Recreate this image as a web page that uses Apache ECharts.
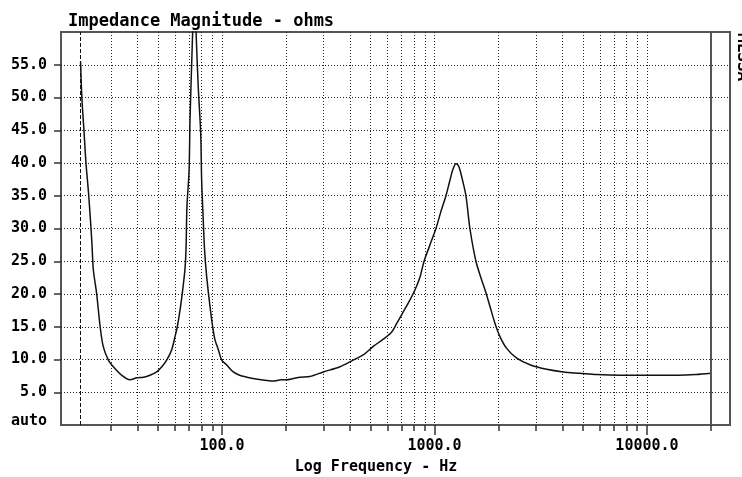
<!DOCTYPE html>
<html>
<head>
<meta charset="utf-8">
<script src="https://cdn.jsdelivr.net/npm/echarts@6/dist/echarts.min.js"></script>
<style>
  html, body { margin: 0; padding: 0; background: #fff; }
  #chart { width: 742px; height: 477px; }
</style>
</head>
<body>
<div id="chart"></div>
<script>
// impedance curve (Hz, ohms)
var freqs = [21.6, 21.9, 22.4, 22.9, 23.6, 24.4, 24.8, 25.7, 26.7, 27.6, 29.2, 30.8, 33.7, 36.9, 39.7,
    42.7, 45.8, 49.3, 52.1, 54.9, 58.0, 60.1, 61.6, 63.5, 65.3, 66.9, 67.7, 68.4, 70.0, 70.7, 72.0,
    72.8, 74.0, 75.5, 77.3, 79.4, 80.2, 81.6, 82.8, 84.5, 87.8, 90.4, 92.7, 96.1, 99.7, 105, 113,
    121, 131, 140, 162, 174, 190, 201, 217, 233, 259, 300, 359, 408, 462, 515, 574, 629, 664, 714,
    767, 809, 855, 893, 952, 1016, 1070, 1132, 1183, 1220, 1262, 1300, 1343, 1406, 1468, 1567,
    1669, 1730, 1825, 1927, 2033, 2186, 2438, 2814, 3371, 4040, 4840, 5800, 7470, 10000, 14000,
    17000, 20000];
var ohms = [55.5, 50.0, 45.0, 40.0, 35.0, 28.0, 23.7, 20.1, 15.0, 12.0, 9.9, 8.9, 7.6, 6.9, 7.2,
    7.3, 7.6, 8.1, 8.9, 9.9, 11.5, 13.5, 15.0, 17.6, 20.6, 23.7, 26.7, 33.3, 38.9, 46.6, 55.2,
    60.3, 68.0, 60.0, 51.6, 44.5, 37.4, 31.3, 26.7, 23.0, 18.1, 15.0, 13.0, 11.5, 9.9, 9.2, 8.1,
    7.6, 7.3, 7.1, 6.8, 6.7, 6.9, 6.9, 7.1, 7.3, 7.4, 8.1, 8.9, 9.8, 10.7, 12.0, 13.1, 14.2, 15.5, 17.3,
    19.1, 20.6, 22.6, 25.0, 27.5, 30.0, 32.5, 35.0, 37.4, 39.0, 39.9, 39.5, 37.9, 35.0, 30.0, 25.0,
    22.1, 20.6, 18.1, 15.5, 13.5, 11.7, 10.2, 9.2, 8.5, 8.1, 7.9, 7.7, 7.6, 7.6, 7.6,
    7.7, 7.9];

// axis ranges and ticks
var xMin = 17.47;
var xMax = 24590;
var yMin = 0;
var yMax = 60;
var yStep = 5;
var xMajor = [100, 1000, 10000];
var xMinor = [30, 40, 50, 60, 70, 80, 90, 200, 300, 400, 500, 600, 700, 800, 900,
    2000, 3000, 4000, 5000, 6000, 7000, 8000, 9000, 20000];
var yTicks = [5, 10, 15, 20, 25, 30, 35, 40, 45, 50, 55];
var startFreq = 21.6;
var endFreq = 20000;

var FONT = 'DejaVu Sans Mono';

var curve = freqs.map(function (f, i) { return [f, ohms[i]]; });
var xAllTicks = xMinor.concat(xMajor).sort(function (a, b) { return a - b; });

var labelStyle = {fontFamily: FONT, fontSize: 15, fontWeight: 'bold', color: '#000'};

var chart = echarts.init(document.getElementById('chart'));
var option = {
    backgroundColor: '#fff',
    animation: false,
    title: [{
        text: 'Impedance Magnitude - ohms',
        left: 68,
        top: 13,
        padding: 0,
        textStyle: {fontFamily: FONT, fontSize: 17, fontWeight: 'bold', color: '#000'}
    }, {
        text: 'Log Frequency - Hz',
        left: 376,
        top: 460,
        padding: 0,
        textAlign: 'center',
        textStyle: labelStyle
    }],
    graphic: [{
        type: 'text',
        x: 734,
        y: 33,
        rotation: -Math.PI / 2,
        style: {
            text: 'MLSSA',
            font: 'bold 16px "DejaVu Sans Mono"',
            fill: '#000',
            textAlign: 'left',
            textVerticalAlign: 'bottom'
        }
    }],
    grid: {
        left: 61, top: 32, right: 12, bottom: 52,
        show: true,
        borderColor: '#555',
        borderWidth: 2
    },
    xAxis: [{
        type: 'log',
        logBase: 10,
        min: xMin,
        max: xMax,
        position: 'bottom',
        axisLine: {show: false},
        axisTick: {show: true, length: 6, customValues: xAllTicks, lineStyle: {color: '#333', width: 1.5}},
        splitLine: {show: true, lineStyle: {color: '#222', width: 1, type: [1, 2]}},
        axisLabel: {
            margin: 14,
            customValues: xMajor,
            fontFamily: FONT,
            fontSize: 15,
            fontWeight: 'bold',
            color: '#000',
            formatter: function (v) {
                var r = Math.round(v);
                return xMajor.indexOf(r) >= 0 ? r.toFixed(1) : '';
            }
        }
    }, {
        type: 'log',
        logBase: 10,
        min: xMin,
        max: xMax,
        position: 'bottom',
        offset: 0,
        axisLine: {show: false},
        axisTick: {show: true, length: 10, customValues: xMajor, lineStyle: {color: '#333', width: 1.5}},
        splitLine: {show: false},
        axisLabel: {show: false}
    }],
    yAxis: {
        type: 'value',
        min: yMin,
        max: yMax,
        interval: yStep,
        axisLine: {show: false},
        axisTick: {show: true, length: 7, customValues: yTicks, lineStyle: {color: '#333', width: 1.5}},
        splitLine: {lineStyle: {color: '#222', width: 1, type: [1, 2]}},
        axisLabel: {
            margin: 14,
            fontFamily: FONT,
            fontSize: 15,
            fontWeight: 'bold',
            color: '#000',
            formatter: function (v) {
                if (v === yMin) return '{a|auto}';
                if (v === yMax) return '';
                return v.toFixed(1);
            },
            rich: {
                a: {fontFamily: FONT, fontSize: 15, fontWeight: 'bold', color: '#000', padding: [0, 0, 8, 0]}
            }
        }
    },
    series: [{
        type: 'line',
        xAxisIndex: 0,
        data: curve,
        showSymbol: false,
        smooth: 0.3,
        lineStyle: {color: '#111', width: 1.5},
        z: 3,
        markLine: {
            silent: true,
            symbol: 'none',
            label: {show: false},
            data: [
                {xAxis: startFreq, lineStyle: {color: '#111', width: 1, type: [4, 2]}},
                {xAxis: endFreq, lineStyle: {color: '#555', width: 2, type: 'solid'}}
            ]
        }
    }]
};
chart.setOption(option);
</script>
</body>
</html>
